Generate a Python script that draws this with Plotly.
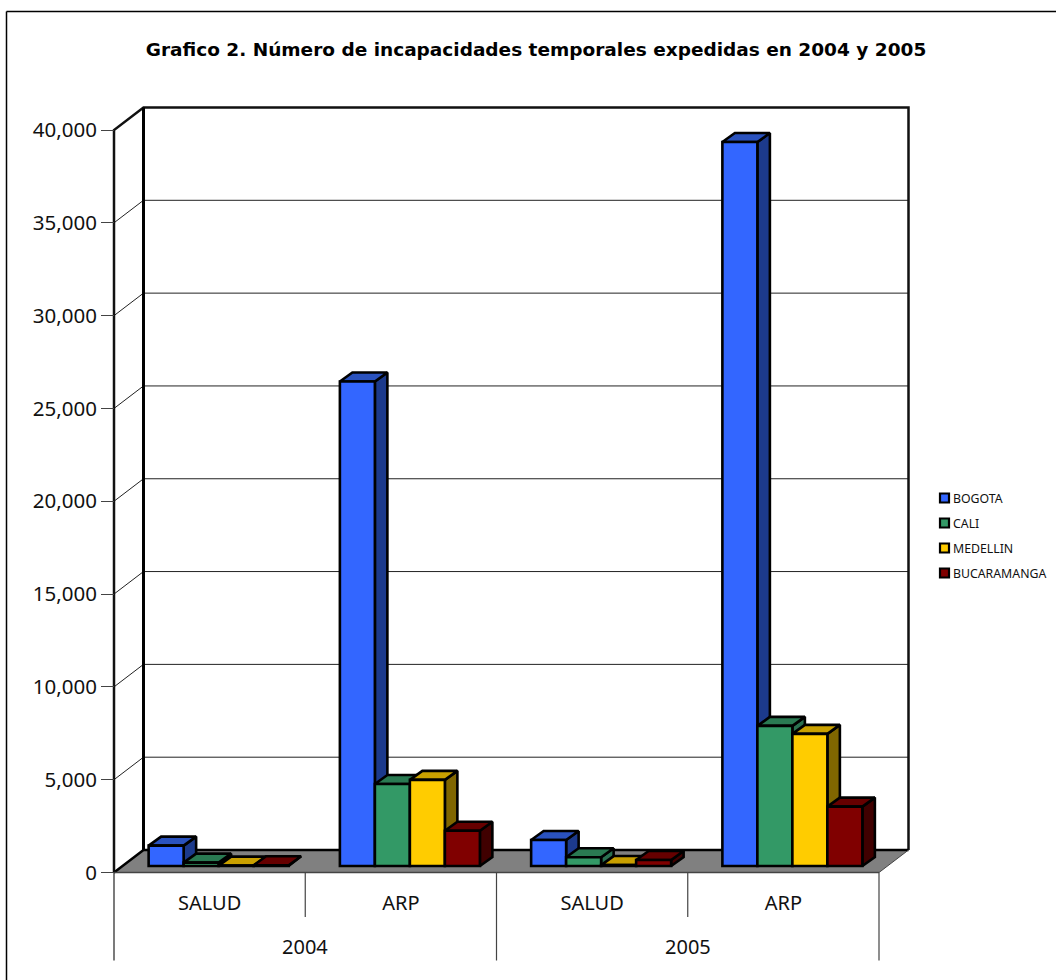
import plotly.graph_objects as go

# Chart content
TITLE = "Grafico 2. Número de incapacidades temporales expedidas en 2004 y 2005"
YEARS = ["2004", "2005"]
GROUPS = ["SALUD", "ARP", "SALUD", "ARP"]
BOGOTA = [1100, 26100, 1400, 39000]
CALI = [180, 4420, 470, 7550]
MEDELLIN = [20, 4640, 50, 7120]
BUCARAMANGA = [40, 1900, 320, 3200]
SERIES_NAMES = ["BOGOTA", "CALI", "MEDELLIN", "BUCARAMANGA"]
SERIES_VALUES = [BOGOTA, CALI, MEDELLIN, BUCARAMANGA]
FRONT_COLORS = ["#3366FF", "#339966", "#FFCC00", "#800000"]
TOP_COLORS = ["#2A52BE", "#2A7A52", "#C9A000", "#660000"]
SIDE_COLORS = ["#1C3A8C", "#2A7050", "#806600", "#400000"]
Y_TICKS = [0, 5000, 10000, 15000, 20000, 25000, 30000, 35000, 40000]

# Page and scale set-up: one axis unit along x is one category slot
WIDTH, HEIGHT = 1056, 980
X0_PX, X4_PX = 114.0, 879.0
Y0_PX, Y40K_PX = 872.5, 130.0
PX_PER_CAT = (X4_PX - X0_PX) / 4
PX_PER_VAL = (Y0_PX - Y40K_PX) / 40000


def dx(px):
    return px / PX_PER_CAT


def dy(px):
    return px / PX_PER_VAL


X_RANGE = [-X0_PX / PX_PER_CAT, (WIDTH - X0_PX) / PX_PER_CAT]
Y_RANGE = [(Y0_PX - HEIGHT) / PX_PER_VAL, Y0_PX / PX_PER_VAL]

# Perspective offsets of the box, and of each column inside it
WALL_DX, WALL_DY = dx(29.5), dy(22.5)
COL_DX, COL_DY = dx(12.5), dy(9)
COL_SHIFT_X, COL_BASE = dx(9), dy(6.5)
COL_W = dx(35)
EDGE_W = 2.6
LABEL_FONT = "Noto Sans, DejaVu Sans, sans-serif"

fig = go.Figure()


def line(xs, ys, color="#000000", width=1.0, z=0):
    fig.add_trace(go.Scatter(x=xs, y=ys, mode="lines", showlegend=False, hoverinfo="skip", zorder=z,
                             line=dict(color=color, width=width, simplify=False)))


# Floor plane
fig.add_trace(go.Scatter(
    x=[0, WALL_DX, 4 + WALL_DX, 4, 0], y=[0, WALL_DY, WALL_DY, 0, 0], mode="lines", fill="toself",
    fillcolor="#808080", line=dict(width=0), showlegend=False, hoverinfo="skip", zorder=0))

# Wall gridlines, stepping back from the front axis
for tick in Y_TICKS[1:-1]:
    line([0, WALL_DX, 4 + WALL_DX], [tick, tick + WALL_DY, tick + WALL_DY], "#222222", 1)

# Box outline
top = Y_TICKS[-1]
line([0, 0, WALL_DX, 4 + WALL_DX, 4 + WALL_DX], [0, top, top + WALL_DY, top + WALL_DY, WALL_DY], "#111111", 2.5)
line([WALL_DX, WALL_DX], [top + WALL_DY, WALL_DY], "#000000", 3)
line([0, WALL_DX, 4 + WALL_DX], [0, WALL_DY, WALL_DY], "#000000", 2.5)
line([4, 4 + WALL_DX], [0, WALL_DY], "#444444", 1)
line([X_RANGE[0] + dx(X0_PX), 4], [0, 0], "#444444", 1.6)

# Group dividers below the floor
LOWER_LEVEL = -dy(44.5)
YEAR_LEVEL = -dy(88)
for i in range(5):
    line([i, i], [0, YEAR_LEVEL if i % 2 == 0 else LOWER_LEVEL],
         "#222222" if i == 0 else "#444444", 1.2)

# Columns are painted left to right so each front hides its neighbour's side
for s, (name, values) in enumerate(zip(SERIES_NAMES, SERIES_VALUES)):
    lefts = [c + 0.5 + COL_SHIFT_X + (s - 2) * COL_W for c in range(4)]
    z_face = 2 * s + 1
    side_x, side_y, top_x, top_y = [], [], [], []
    for left, v in zip(lefts, values):
        right = left + COL_W
        h = COL_BASE + v
        side_x += [right, right + COL_DX, right + COL_DX, right, right, None]
        side_y += [COL_BASE, COL_BASE + COL_DY, h + COL_DY, h, COL_BASE, None]
        top_x += [left, left + COL_DX, right + COL_DX, right, left, None]
        top_y += [h, h + COL_DY, h + COL_DY, h, h, None]
    for xs, ys, col in ((side_x, side_y, SIDE_COLORS[s]), (top_x, top_y, TOP_COLORS[s])):
        fig.add_trace(go.Scatter(x=xs, y=ys, mode="lines", fill="toself", fillcolor=col, name=name,
                                 line=dict(color="#000000", width=EDGE_W), showlegend=False,
                                 hoverinfo="skip", zorder=z_face))
    fig.add_trace(go.Bar(x=[l + COL_W / 2 for l in lefts], y=values, base=COL_BASE, width=COL_W, name=name,
                         marker=dict(color=FRONT_COLORS[s], line=dict(color="#000000", width=EDGE_W)),
                         showlegend=False, zorder=z_face + 1))

annotations = []
for i, year in enumerate(YEARS):
    annotations.append(dict(x=2 * i + 1, y=-dy(74), xref="x", yref="y", text=year, showarrow=False,
                            font=dict(family=LABEL_FONT, size=20, color="#111111")))

# Legend key drawn beside the box
shapes = [
    dict(type="line", xref="paper", yref="paper", x0=6.5 / WIDTH, x1=1, y0=1 - 11.5 / HEIGHT, y1=1 - 11.5 / HEIGHT,
         line=dict(color="#000000", width=1.5)),
    dict(type="line", xref="paper", yref="paper", x0=6.5 / WIDTH, x1=6.5 / WIDTH, y0=1 - 11.5 / HEIGHT, y1=0,
         line=dict(color="#000000", width=1.5)),
]
for s, name in enumerate(SERIES_NAMES):
    cy = 498 + 25 * s
    shapes.append(dict(type="rect", xref="paper", yref="paper", x0=940 / WIDTH, x1=949 / WIDTH,
                       y0=1 - (cy + 4.5) / HEIGHT, y1=1 - (cy - 4.5) / HEIGHT,
                       fillcolor=FRONT_COLORS[s], line=dict(color="#000000", width=2.2)))
    annotations.append(dict(x=952 / WIDTH, y=1 - (cy + 0.5) / HEIGHT, xref="paper", yref="paper", text=name,
                            showarrow=False, xanchor="left", yanchor="middle", xshift=-1,
                            font=dict(family=LABEL_FONT, size=12.3, color="#111111")))

fig.update_layout(
    width=WIDTH, height=HEIGHT, margin=dict(l=0, r=0, t=0, b=0), autosize=False,
    paper_bgcolor="#FFFFFF", plot_bgcolor="#FFFFFF", barmode="overlay", showlegend=False,
    title=dict(text=f"<b>{TITLE}</b>", x=536 / WIDTH, y=1 - 50 / HEIGHT, xanchor="center", yanchor="middle",
               xref="paper", yref="paper", font=dict(family="DejaVu Sans, sans-serif", size=18.5, color="#000000")),
    xaxis=dict(range=X_RANGE, showgrid=False, zeroline=False, showline=False, tickmode="array",
               tickvals=[i + 0.5 for i in range(4)], ticktext=GROUPS, ticks="outside", ticklen=12,
               tickcolor="rgba(0,0,0,0)", anchor="free", position=1 - Y0_PX / HEIGHT, side="bottom",
               tickfont=dict(family=LABEL_FONT, size=20, color="#111111"), fixedrange=True),
    yaxis=dict(range=Y_RANGE, showgrid=False, zeroline=False, showline=False, tickmode="array",
               tickvals=Y_TICKS, tickformat=",d", ticks="outside", ticklen=13, tickcolor="#444444", tickwidth=1.3,
               anchor="free", position=X0_PX / WIDTH, side="left",
               tickfont=dict(family=LABEL_FONT, size=20.5, color="#111111"), fixedrange=True),
    shapes=shapes, annotations=annotations,
)

fig.write_html("out.html", config={"displayModeBar": False})
